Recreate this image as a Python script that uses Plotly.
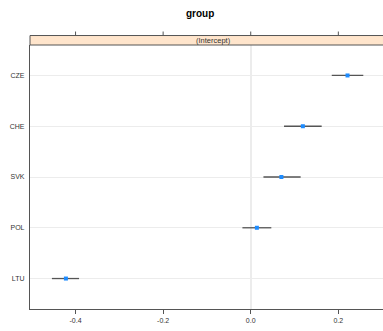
import plotly.graph_objects as go

groups = ["LTU", "POL", "SVK", "CHE", "CZE"]
estimate = [-0.422, 0.014, 0.070, 0.119, 0.221]
lower = [-0.454, -0.019, 0.029, 0.076, 0.185]
upper = [-0.392, 0.047, 0.114, 0.162, 0.257]
tick_vals = [-0.4, -0.2, 0.0, 0.2]
tick_text = ["-0.4", "-0.2", "0.0", "0.2"]
title_text = "group"
strip_text = "(Intercept)"

W, H = 383, 331
ML, MR, MT, MB = 29.5, 0, 44.5, 22
plot_h = H - MT - MB
strip_h = 9.5

fig = go.Figure()
fig.add_trace(go.Scatter(
    x=estimate, y=groups, mode="markers",
    marker=dict(color="#1e8cff", size=4, symbol="square"),
    error_x=dict(type="data", symmetric=False,
                 array=[u - e for u, e in zip(upper, estimate)],
                 arrayminus=[e - l for e, l in zip(estimate, lower)],
                 color="#555555", thickness=1.3, width=0),
    showlegend=False, cliponaxis=False,
))

shapes = []
# strip
shapes.append(dict(type="rect", xref="paper", yref="paper",
                   x0=0, x1=1.05, y0=1, y1=1 + strip_h / plot_h,
                   fillcolor="#ffe5cc", line=dict(color="#555555", width=1), layer="above"))
# top ticks
for v in tick_vals:
    shapes.append(dict(type="line", xref="x", yref="paper", x0=v, x1=v,
                       y0=1 + strip_h / plot_h, y1=1 + (strip_h + 4) / plot_h,
                       line=dict(color="#555555", width=1)))

fig.update_layout(
    width=W, height=H, autosize=False,
    margin=dict(l=ML, r=MR, t=MT, b=MB, pad=0),
    paper_bgcolor="white", plot_bgcolor="white",
    font=dict(family="Liberation Sans, Arial, sans-serif", color="#333333", size=7),
    shapes=shapes,
    annotations=[
        dict(text="<b>" + title_text + "</b>", xref="paper", yref="paper",
             x=(200 - ML) / (W - ML), y=1 + (MT - 13) / plot_h,
             xanchor="center", yanchor="middle", showarrow=False,
             font=dict(size=10, color="#000000")),
        dict(text=strip_text, xref="paper", yref="paper",
             x=(213 - ML) / (W - ML), y=1 + strip_h / 2 / plot_h,
             xanchor="center", yanchor="middle", showarrow=False,
             font=dict(size=7.5, color="#333333")),
    ],
    xaxis=dict(range=[-0.504, 0.302], tickvals=tick_vals, ticktext=tick_text,
               showgrid=False, zeroline=True, zerolinecolor="#ececec", zerolinewidth=2,
               showline=True, linecolor="#555555", linewidth=1.2,
               ticks="outside", ticklen=4, tickcolor="#555555", tickwidth=1,
               tickfont=dict(size=7, color="#333333"), fixedrange=True),
    yaxis=dict(type="category", categoryorder="array", categoryarray=groups,
               range=[-0.6, 4.6], showgrid=True, gridcolor="#ececec", gridwidth=1,
               zeroline=False, showline=True, linecolor="#555555", linewidth=1.2,
               ticks="", ticklabelstandoff=3,
               tickfont=dict(size=7, color="#333333"), fixedrange=True),
)

fig.write_html("out.html", config={"displayModeBar": False},
               post_script="document.body.style.margin='0';document.body.style.overflow='hidden';")
